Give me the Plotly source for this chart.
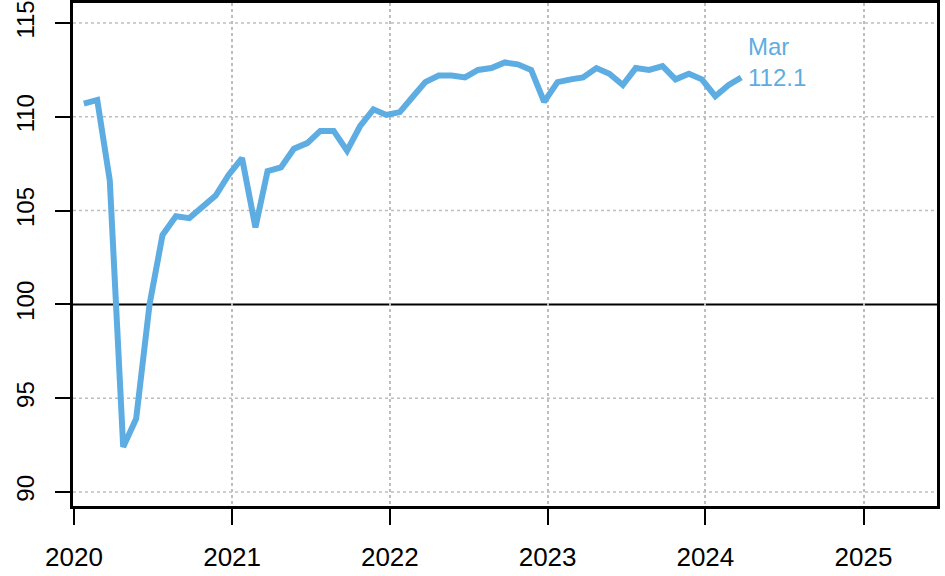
import pandas as pd
import plotly.graph_objects as go

# Monthly index values, Jan 2020 - Mar 2024
start_month = "2020-01-01"
values = [
    110.7, 110.9, 106.6, 92.4, 93.9, 100.0, 103.7, 104.7, 104.6, 105.2, 105.8, 106.9,   # 2020
    107.8, 104.1, 107.1, 107.3, 108.3, 108.6, 109.25, 109.25, 108.2, 109.5, 110.4, 110.1,  # 2021
    110.25, 111.1, 111.85, 112.2, 112.2, 112.1, 112.5, 112.6, 112.9, 112.8, 112.5, 110.8,  # 2022
    111.85, 112.0, 112.1, 112.6, 112.3, 111.7, 112.6, 112.5, 112.7, 112.0, 112.3, 112.0,  # 2023
    111.1, 111.7, 112.1,  # 2024
]
year_ticks = ["2020", "2021", "2022", "2023", "2024", "2025"]
y_ticks = [90, 95, 100, 105, 110, 115]
ref_level = 100
last_label = "Mar"

dates = pd.date_range(start_month, periods=len(values), freq="MS") + pd.Timedelta(days=23)

BLUE = "#5DADE2"
GRID = "#BEBEBE"
FONT = "Liberation Sans, Arial, sans-serif"

fig = go.Figure()
fig.add_trace(go.Scatter(
    x=dates, y=values, mode="lines",
    line=dict(color=BLUE, width=6, shape="linear"),
    hoverinfo="skip", showlegend=False,
))

# horizontal dotted grid (drawn as shapes so the reference line sits on top)
for yv in y_ticks:
    if yv == ref_level:
        continue
    fig.add_shape(type="line", xref="paper", x0=0, x1=1, yref="y", y0=yv, y1=yv,
                  line=dict(color=GRID, width=1.5, dash="dot"), layer="below")
fig.add_shape(type="line", xref="paper", x0=0, x1=1, yref="y", y0=ref_level, y1=ref_level,
              line=dict(color="black", width=2), layer="below")

fig.add_annotation(
    x=dates[-1], y=values[-1], xref="x", yref="y",
    text=f"{last_label}<br>{values[-1]:.1f}",
    showarrow=False, xanchor="left", yanchor="middle", align="left",
    xshift=5, yshift=15,
    font=dict(family=FONT, size=24, color=BLUE),
)

fig.update_layout(
    width=945, height=576,
    margin=dict(l=73, r=8, t=3, b=70, autoexpand=False),
    paper_bgcolor="white", plot_bgcolor="white",
    font=dict(family=FONT, color="black"),
)

fig.update_xaxes(
    type="date",
    range=["2019-12-29 21:00", "2025-06-20"],
    tickvals=[f"{y}-01-01" for y in year_ticks],
    ticktext=year_ticks,
    ticks="outside", ticklen=16, tickwidth=2, tickcolor="black",
    tickfont=dict(family=FONT, size=26, color="black"),
    ticklabelstandoff=10, ticklabeloverflow="allow",
    showgrid=True, gridcolor=GRID, gridwidth=1.5, griddash="dot",
    showline=True, linecolor="black", linewidth=3, mirror=True,
    zeroline=False, automargin=False,
)
fig.update_yaxes(
    range=[89.25, 116.07],
    tickvals=y_ticks,
    ticks="outside", ticklen=15, tickwidth=2, tickcolor="black",
    tickangle=-90,
    tickfont=dict(family=FONT, size=24, color="black"),
    ticklabelstandoff=11, ticklabeloverflow="allow",
    showgrid=False,
    showline=True, linecolor="black", linewidth=3, mirror=True,
    zeroline=False, automargin=False,
)

fig.write_html(
    "out.html",
    config={"displayModeBar": False},
    post_script="document.body.style.margin='0';document.body.style.padding='0';",
)
